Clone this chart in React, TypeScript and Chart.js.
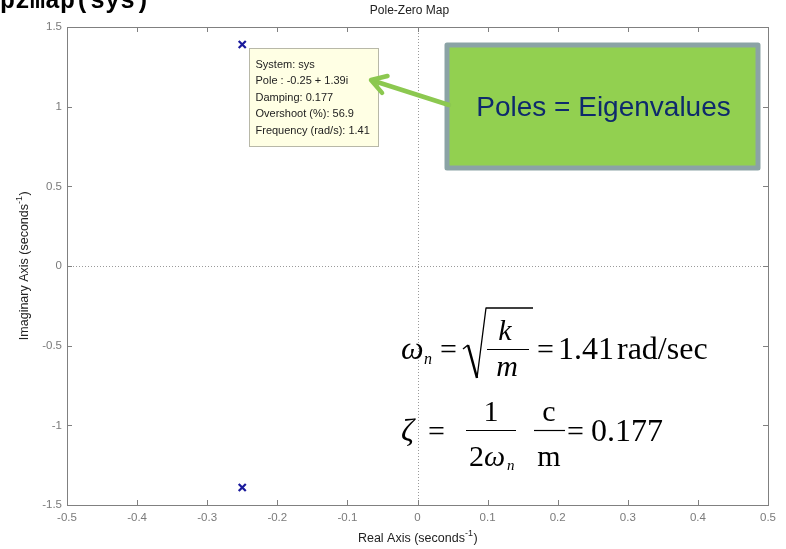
import React, { useEffect, useRef } from "react";
import { Chart, registerables } from "chart.js";

Chart.register(...registerables);

const poleReal = [-0.25, -0.25];
const poleImag = [1.39, -1.39];
const xRange = [-0.5, 0.5];
const yRange = [-1.5, 1.5];
const xStep = 0.1;
const yStep = 0.5;
const chartTitle = "Pole-Zero Map";
const commandText = "pzmap(sys)";
const xTitle = "Real Axis (seconds";
const yTitle = "Imaginary Axis (seconds";
const tooltipLines = [
  "System: sys",
  "Pole : -0.25 + 1.39i",
  "Damping: 0.177",
  "Overshoot (%): 56.9",
  "Frequency (rad/s): 1.41",
];
const calloutText = "Poles = Eigenvalues";

const SANS = "'Liberation Sans', Arial, sans-serif";
const SERIF = "'Liberation Serif', 'Times New Roman', serif";

function fmt(v: number) {
  return String(Number(v.toFixed(2)));
}

function drawSupTitle(ctx: CanvasRenderingContext2D, text: string, x: number, y: number, size: number) {
  const sup = "-1";
  const close = ")";
  ctx.font = `${size}px ${SANS}`;
  const w1 = ctx.measureText(text).width;
  const w3 = ctx.measureText(close).width;
  ctx.font = `${Math.round(size * 0.7)}px ${SANS}`;
  const w2 = ctx.measureText(sup).width;
  const sx = x - (w1 + w2 + w3) / 2;
  ctx.textAlign = "left";
  ctx.textBaseline = "middle";
  ctx.font = `${size}px ${SANS}`;
  ctx.fillText(text, sx, y);
  ctx.font = `${Math.round(size * 0.7)}px ${SANS}`;
  ctx.fillText(sup, sx + w1, y - size * 0.4);
  ctx.font = `${size}px ${SANS}`;
  ctx.fillText(close, sx + w1 + w2 + 0.5, y);
}

const overlay = {
  id: "overlay",
  beforeDatasetsDraw(chart: any) {
    const ctx = chart.ctx as CanvasRenderingContext2D;
    const { left, right, top, bottom } = chart.chartArea;
    const xs = chart.scales.x;
    const ys = chart.scales.y;
    ctx.save();
    // dotted zero lines
    ctx.strokeStyle = "#9a9a9a";
    ctx.lineWidth = 1;
    ctx.setLineDash([1, 2]);
    const x0 = Math.round(xs.getPixelForValue(0)) + 0.5;
    const y0 = Math.round(ys.getPixelForValue(0)) + 0.5;
    ctx.beginPath();
    ctx.moveTo(x0, top);
    ctx.lineTo(x0, bottom);
    ctx.moveTo(left, y0);
    ctx.lineTo(right, y0);
    ctx.stroke();
    ctx.setLineDash([]);
    // box
    ctx.strokeStyle = "#808080";
    ctx.lineWidth = 1;
    ctx.strokeRect(Math.round(left) + 0.5, Math.round(top) + 0.5, Math.round(right - left), Math.round(bottom - top));
    // inward ticks
    const tl = 5;
    ctx.beginPath();
    xs.ticks.forEach((t: any) => {
      const px = Math.round(xs.getPixelForValue(t.value)) + 0.5;
      ctx.moveTo(px, bottom);
      ctx.lineTo(px, bottom - tl);
      ctx.moveTo(px, top);
      ctx.lineTo(px, top + tl);
    });
    ys.ticks.forEach((t: any) => {
      const py = Math.round(ys.getPixelForValue(t.value)) + 0.5;
      ctx.moveTo(left, py);
      ctx.lineTo(left + tl, py);
      ctx.moveTo(right, py);
      ctx.lineTo(right - tl, py);
    });
    ctx.stroke();

    // tick labels
    ctx.fillStyle = "#7a7a7a";
    ctx.font = `11.5px ${SANS}`;
    ctx.textAlign = "center";
    ctx.textBaseline = "middle";
    xs.ticks.forEach((t: any) => {
      ctx.fillText(fmt(t.value), xs.getPixelForValue(t.value), bottom + 13);
    });
    ctx.textAlign = "right";
    ys.ticks.forEach((t: any) => {
      ctx.fillText(fmt(t.value), left - 5, ys.getPixelForValue(t.value));
    });
    ctx.restore();
  },
  afterDraw(chart: any) {
    const ctx = chart.ctx as CanvasRenderingContext2D;
    const { left, right, top, bottom } = chart.chartArea;
    const xs = chart.scales.x;
    const ys = chart.scales.y;
    const cx = (left + right) / 2;
    const cy = (top + bottom) / 2;
    ctx.save();

    // command text (clipped at top)
    ctx.fillStyle = "#000";
    ctx.font = `bold 25px 'Liberation Mono', 'Courier New', monospace`;
    ctx.textAlign = "left";
    ctx.textBaseline = "alphabetic";
    ctx.fillText(commandText, 0, 8);

    // title
    ctx.fillStyle = "#222";
    ctx.font = `12px ${SANS}`;
    ctx.textAlign = "center";
    ctx.textBaseline = "middle";
    ctx.fillText(chartTitle, cx - 8, 11);

    // axis titles
    ctx.fillStyle = "#222";
    drawSupTitle(ctx, xTitle, cx, 539, 12.5);
    ctx.save();
    ctx.translate(25, cy);
    ctx.rotate(-Math.PI / 2);
    drawSupTitle(ctx, yTitle, 0, 0, 12.5);
    ctx.restore();

    // data tooltip anchored at upper pole
    const px = xs.getPixelForValue(poleReal[0]);
    const py = ys.getPixelForValue(poleImag[0]);
    const bx = Math.round(px + 7) + 0.5;
    const by = Math.round(py + 3) + 0.5;
    const bw = 129;
    const bh = 98;
    ctx.fillStyle = "#ffffe4";
    ctx.fillRect(bx, by, bw, bh);
    ctx.strokeStyle = "#b8b8a8";
    ctx.lineWidth = 1;
    ctx.strokeRect(bx, by, bw, bh);
    ctx.fillStyle = "#222";
    ctx.font = `11px ${SANS}`;
    ctx.textAlign = "left";
    ctx.textBaseline = "middle";
    tooltipLines.forEach((l, i) => {
      ctx.fillText(l, bx + 6, by + 16 + i * 16.5);
    });

    // green callout box
    const gx = 447, gy = 45, gw = 311, gh = 123;
    ctx.fillStyle = "#92d050";
    ctx.fillRect(gx, gy, gw, gh);
    ctx.strokeStyle = "#8ba3a5";
    ctx.lineWidth = 5;
    ctx.lineJoin = "round";
    ctx.strokeRect(gx, gy, gw, gh);
    ctx.fillStyle = "#0e2a6c";
    ctx.font = `28px ${SANS}`;
    ctx.textAlign = "center";
    ctx.textBaseline = "middle";
    ctx.fillText(calloutText, gx + gw / 2 + 1, gy + gh / 2 + 2);

    // arrow
    const ax0 = 449, ay0 = 105;
    const ax1 = 371, ay1 = 80;
    ctx.strokeStyle = "#8cc850";
    ctx.lineWidth = 4.5;
    ctx.lineCap = "round";
    ctx.beginPath();
    ctx.moveTo(ax0, ay0);
    ctx.lineTo(ax1 + 3, ay1 + 1);
    ctx.stroke();
    const ang = Math.atan2(ay0 - ay1, ax0 - ax1);
    const hl = 17;
    ctx.beginPath();
    ctx.moveTo(ax1 + hl * Math.cos(ang - 0.55), ay1 + hl * Math.sin(ang - 0.55));
    ctx.lineTo(ax1, ay1);
    ctx.lineTo(ax1 + hl * Math.cos(ang + 0.55), ay1 + hl * Math.sin(ang + 0.55));
    ctx.stroke();

    // equations
    ctx.fillStyle = "#000";
    ctx.strokeStyle = "#000";
    ctx.lineCap = "butt";
    ctx.textAlign = "left";
    ctx.textBaseline = "alphabetic";
    // eq 1
    const b1 = 359;
    ctx.font = `italic 32px ${SERIF}`;
    ctx.fillText("\u03c9", 401, b1);
    ctx.font = `italic 16px ${SERIF}`;
    ctx.fillText("n", 424, b1 + 5);
    ctx.font = `30px ${SERIF}`;
    ctx.fillText("=", 440, b1);
    // sqrt
    ctx.lineWidth = 1.5;
    ctx.beginPath();
    ctx.moveTo(463, 349);
    ctx.lineTo(468, 345);
    ctx.stroke();
    ctx.lineWidth = 2.5;
    ctx.beginPath();
    ctx.moveTo(468, 345);
    ctx.lineTo(477, 378);
    ctx.stroke();
    ctx.lineWidth = 1.3;
    ctx.beginPath();
    ctx.moveTo(477, 378);
    ctx.lineTo(486, 308);
    ctx.lineTo(533, 308);
    ctx.stroke();
    ctx.font = `italic 30px ${SERIF}`;
    ctx.textAlign = "center";
    ctx.fillText("k", 505, 340);
    ctx.fillText("m", 507, 376);
    ctx.lineWidth = 1.2;
    ctx.beginPath();
    ctx.moveTo(487, 349.5);
    ctx.lineTo(529, 349.5);
    ctx.stroke();
    ctx.textAlign = "left";
    ctx.font = `30px ${SERIF}`;
    ctx.fillText("=", 537, b1);
    ctx.font = `32px ${SERIF}`;
    ctx.fillText("1.41", 558, b1);
    ctx.fillText("rad/sec", 617, b1);

    // eq 2
    const b2 = 441;
    ctx.font = `italic 32px ${SERIF}`;
    ctx.fillText("\u03b6", 401, b2);
    ctx.font = `30px ${SERIF}`;
    ctx.fillText("=", 428, b2);
    ctx.textAlign = "center";
    ctx.fillText("1", 491, 421);
    ctx.beginPath();
    ctx.moveTo(466, 430.5);
    ctx.lineTo(516, 430.5);
    ctx.stroke();
    ctx.textAlign = "left";
    ctx.fillText("2", 469, 466);
    ctx.font = `italic 30px ${SERIF}`;
    ctx.fillText("\u03c9", 484, 466);
    ctx.font = `italic 15px ${SERIF}`;
    ctx.fillText("n", 507, 470);
    ctx.font = `30px ${SERIF}`;
    ctx.textAlign = "center";
    ctx.fillText("c", 549, 421);
    ctx.fillText("m", 549, 466);
    ctx.beginPath();
    ctx.moveTo(534, 430.5);
    ctx.lineTo(565, 430.5);
    ctx.stroke();
    ctx.textAlign = "left";
    ctx.fillText("=", 567, b2);
    ctx.font = `32px ${SERIF}`;
    ctx.fillText("0.177", 591, b2);

    ctx.restore();
  },
};

export default function App() {
  const ref = useRef<HTMLCanvasElement>(null);
  useEffect(() => {
    if (!ref.current) return;
    const chart = new Chart(ref.current, {
      type: "scatter",
      data: {
        datasets: [
          {
            data: poleReal.map((x, i) => ({ x, y: poleImag[i] })),
            pointStyle: "crossRot",
            pointRadius: 5,
            pointBorderWidth: 2.2,
            borderColor: "#1a1a9c",
            backgroundColor: "#1a1a9c",
            showLine: false,
          },
        ],
      },
      options: {
        animation: false,
        responsive: false,
        layout: { padding: { top: 27, right: 18, left: 0, bottom: 0 } },
        plugins: {
          legend: { display: false },
          tooltip: { enabled: false },
          title: { display: false },
        },
        events: [],
        scales: {
          x: {
            type: "linear",
            min: xRange[0],
            max: xRange[1],
            grid: { display: false },
            border: { display: false },
            ticks: { stepSize: xStep, display: false },
            afterFit: (s: any) => {
              s.height = 44;
            },
          },
          y: {
            type: "linear",
            min: yRange[0],
            max: yRange[1],
            grid: { display: false },
            border: { display: false },
            ticks: { stepSize: yStep, display: false },
            afterFit: (s: any) => {
              s.width = 67;
            },
          },
        },
      },
      plugins: [overlay],
    });
    return () => chart.destroy();
  }, []);
  return (
    <div style={{ position: "fixed", left: 0, top: 0, width: 786, height: 549, background: "#fff" }}>
      <canvas ref={ref} width={786} height={549} style={{ display: "block" }} />
    </div>
  );
}
